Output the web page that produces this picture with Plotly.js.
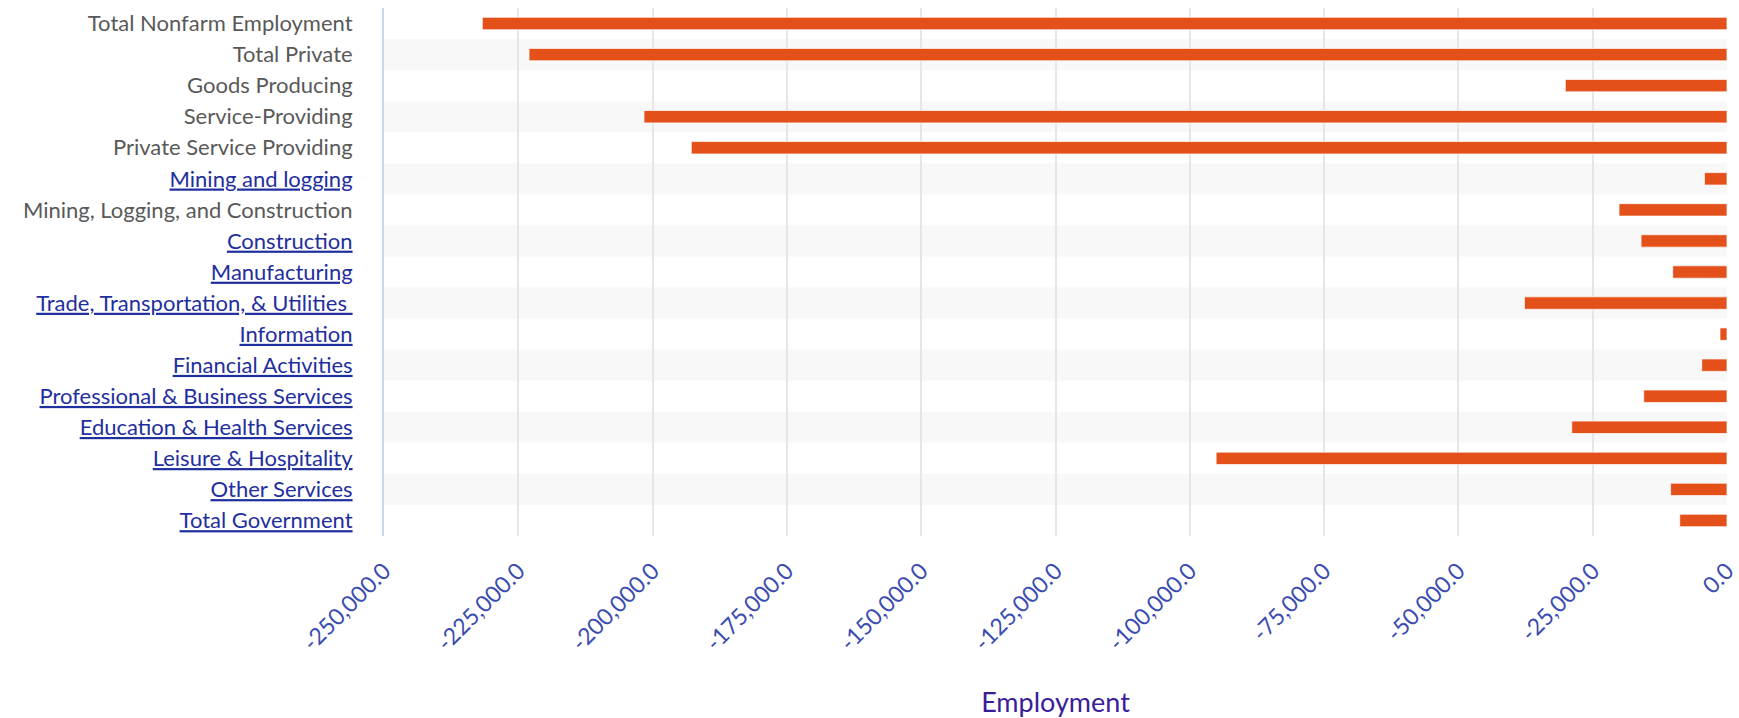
<!DOCTYPE html>
<html>
<head>
<meta charset="utf-8">
<script src="https://cdn.plot.ly/plotly-3.0.1.min.js"></script>
<style>
  html, body { margin: 0; padding: 0; background: #ffffff; }
  #chart { width: 1739px; height: 718px; }
</style>
</head>
<body>
<div id="chart"></div>
<script>
// ---- data ----
const categories = [
  "Total Nonfarm Employment",
  "Total Private",
  "Goods Producing",
  "Service-Providing",
  "Private Service Providing",
  "Mining and logging",
  "Mining, Logging, and Construction",
  "Construction",
  "Manufacturing",
  "Trade, Transportation, & Utilities",
  "Information",
  "Financial Activities",
  "Professional & Business Services",
  "Education & Health Services",
  "Leisure & Hospitality",
  "Other Services",
  "Total Government"
];
const isLink = [false, false, false, false, false, true, false, true, true, true, true, true, true, true, true, true, true];
const employment = [
  -231700, -223000, -30100, -201600, -192800,
  -4200, -20100, -16000, -10100, -37700,
  -1300, -4700, -15500, -28900, -95100,
  -10500, -8800
];
const tickValues = [-250000, -225000, -200000, -175000, -150000, -125000, -100000, -75000, -50000, -25000, 0];
const tickLabels = ["-250,000.0", "-225,000.0", "-200,000.0", "-175,000.0", "-150,000.0", "-125,000.0", "-100,000.0", "-75,000.0", "-50,000.0", "-25,000.0", "0.0"];

// ---- styling ----
const FONT = "Lato, 'Open Sans', sans-serif";
const linkColor = "#1f2f9e";
const plainColor = "#595959";

const catText = categories.map((c, i) => isLink[i]
  ? '<span style="color:' + linkColor + '"><u>' + c + (i === 9 ? '&nbsp;' : '') + '</u></span>'
  : '<span style="color:' + plainColor + '">' + c + '</span>');

const bands = [];
categories.forEach((c, i) => {
  if (i % 2 === 1) {
    bands.push({
      type: 'rect', xref: 'paper', yref: 'y',
      x0: 0, x1: 1, y0: i - 0.5, y1: i + 0.5,
      fillcolor: '#f8f8f8', line: { width: 0 }, layer: 'below'
    });
  }
});

const trace = {
  type: 'bar',
  orientation: 'h',
  y: categories,
  x: employment,
  marker: { color: '#e4501a', line: { color: 'rgba(255,255,255,0.7)', width: 1 } },
  hoverinfo: 'none'
};

const layout = {
  width: 1739, height: 718,
  margin: { l: 384, r: 12, t: 8, b: 182 },
  paper_bgcolor: '#ffffff',
  plot_bgcolor: 'rgba(0,0,0,0)',
  font: { family: FONT },
  showlegend: false,
  bargap: 0.6,
  shapes: bands,
  xaxis: {
    range: [-250000, 0],
    tickvals: tickValues,
    ticktext: tickLabels,
    tickangle: -45,
    tickfont: { family: FONT, size: 23, color: '#3a4cb0' },
    showgrid: true, gridcolor: '#e6e6e6', gridwidth: 2,
    zeroline: false, showline: false,
    ticks: '', ticklabelstandoff: 16,
    automargin: false,
    title: { text: 'Employment', font: { family: FONT, size: 27, color: '#3b1d9a' }, standoff: 125 }
  },
  yaxis: {
    type: 'category',
    categoryorder: 'array',
    categoryarray: categories,
    tickvals: categories,
    ticktext: catText,
    range: [categories.length - 0.5, -0.5],
    tickfont: { family: FONT, size: 22, color: plainColor },
    showgrid: false, zeroline: false,
    showline: true, linecolor: '#ccd6eb', linewidth: 2,
    ticks: '', ticklabelstandoff: 25,
    automargin: false
  }
};

Plotly.newPlot('chart', [trace], layout, { displayModeBar: false, staticPlot: true });
</script>
</body>
</html>
